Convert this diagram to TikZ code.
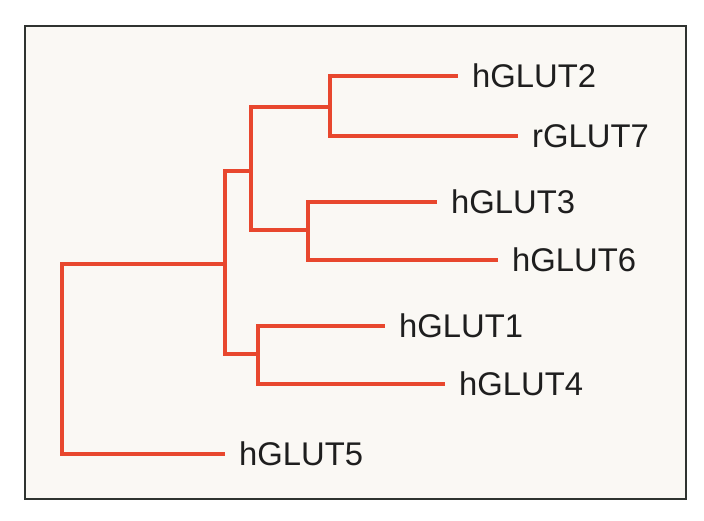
\documentclass[tikz,border=0pt]{standalone}
\usepackage{fontspec}
\setmainfont{Liberation Sans}
\definecolor{branch}{HTML}{E8472E}
\definecolor{panel}{HTML}{FAF8F4}
\definecolor{frame}{HTML}{2F3330}
\definecolor{ink}{HTML}{1E1E1E}
\begin{document}
\begin{tikzpicture}[x=1pt,y=-1pt,
  leaf/.style={anchor=west,inner xsep=14pt,inner ysep=0pt,text=ink,
    font=\fontsize{32.8}{36}\selectfont},
  branchline/.style={draw=branch,line width=4pt}]
\useasboundingbox (0,0) rectangle (704,520);
\fill[white] (0,0) rectangle (704,520);
\draw[fill=panel,draw=frame,line width=2pt] (25,26) rectangle (686,499);
% leaf labels
\node[leaf] (l2) at (458,76) {hGLUT2};
\node[leaf] (l7) at (518,136) {rGLUT7};
\node[leaf] (l3) at (437,202) {hGLUT3};
\node[leaf] (l6) at (498,260) {hGLUT6};
\node[leaf] (l1) at (385,326) {hGLUT1};
\node[leaf] (l4) at (445,384) {hGLUT4};
\node[leaf] (l5) at (225,454) {hGLUT5};
% internal nodes
\coordinate (A) at (330,107);
\coordinate (B) at (308,230);
\coordinate (C) at (251,171);
\coordinate (D) at (258,354);
\coordinate (E) at (225,264);
\coordinate (R) at (62,360);
% connectors
\draw[branchline] (R) |- (E);
\draw[branchline] (R) |- (l5.west);
\draw[branchline] (E) |- (C);
\draw[branchline] (E) |- (D);
\draw[branchline] (C) |- (A);
\draw[branchline] (C) |- (B);
\draw[branchline] (A) |- (l2.west);
\draw[branchline] (A) |- (l7.west);
\draw[branchline] (B) |- (l3.west);
\draw[branchline] (B) |- (l6.west);
\draw[branchline] (D) |- (l1.west);
\draw[branchline] (D) |- (l4.west);
\end{tikzpicture}
\end{document}
